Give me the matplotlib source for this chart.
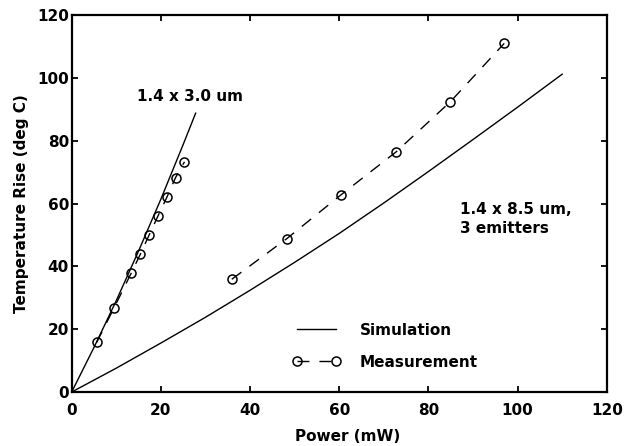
import matplotlib.pyplot as plt

# simulation curves
narrow_sim_p = [0, 5, 10, 15, 20, 25, 27.8]
narrow_sim_t = [0, 14.2, 29.1, 44.9, 61.4, 78.8, 88.8]
wide_sim_p = [0, 10, 20, 30, 40, 50, 60, 70, 80, 90, 100, 110]
wide_sim_t = [0, 7.6, 15.6, 23.8, 32.4, 41.3, 50.5, 60.2, 70.2, 80.4, 90.7, 101.2]

# measurements
narrow_meas_p = [5.6, 9.5, 13.4, 15.4, 17.4, 19.4, 21.4, 23.3, 25.3]
narrow_meas_t = [15.8, 26.8, 38.0, 43.9, 50.1, 56.2, 62.2, 68.3, 73.3]
wide_meas_p = [35.9, 48.2, 60.4, 72.7, 84.9, 97.0]
wide_meas_t = [35.9, 48.8, 62.8, 76.4, 92.4, 111.0]

fnt = dict(family='DejaVu Sans', weight='bold', size=11)

fig = plt.figure(figsize=(6.31, 4.46), dpi=100)
ax = fig.add_axes([0.1136, 0.121, 0.848, 0.845])

ax.plot(narrow_sim_p, narrow_sim_t, color='black', lw=1.0, label='Simulation')
ax.plot(wide_sim_p, wide_sim_t, color='black', lw=1.0)
ax.plot(narrow_meas_p, narrow_meas_t, color='black', lw=1.0, dashes=(8.6, 7.2),
        marker='o', ms=6.5, mfc='none', mec='black', mew=1.1, label='Measurement')
ax.plot(wide_meas_p, wide_meas_t, color='black', lw=1.0, dashes=(8.6, 7.2),
        marker='o', ms=6.5, mfc='none', mec='black', mew=1.1)

ax.set_xlim(0, 120)
ax.set_ylim(0, 120)
ax.set_xticks(range(0, 121, 20))
ax.set_yticks(range(0, 121, 20))
ax.tick_params(direction='in', top=True, right=True, length=4, width=1.3)
ax.tick_params(axis='x', pad=8)
ax.tick_params(axis='y', pad=2)
for lab in ax.get_xticklabels() + ax.get_yticklabels():
    lab.set_fontproperties(fnt)
for s in ax.spines.values():
    s.set_linewidth(1.6)

ax.set_xlabel('Power (mW)', fontdict=fnt)
ax.set_ylabel('Temperature Rise (deg C)', fontdict=fnt)
ax.xaxis.set_label_coords(0.516, -0.098)
ax.yaxis.set_label_coords(-0.080, 0.5)

ax.text(26.6, 94.0, '1.4 x 3.0 um', fontdict=fnt, ha='center', va='center')
ax.text(99.7, 55.1, '1.4 x 8.5 um,\n3 emitters', fontdict=fnt, ha='center', va='center',
        multialignment='left', linespacing=1.4)

ax.legend(loc='center left', bbox_to_anchor=(49.6, 14.6), bbox_transform=ax.transData,
          frameon=False, numpoints=2, borderaxespad=0, borderpad=0,
          handlelength=3.1, handletextpad=1.3, labelspacing=1.1, prop=fnt)

fig.savefig('out.png', dpi=100)
